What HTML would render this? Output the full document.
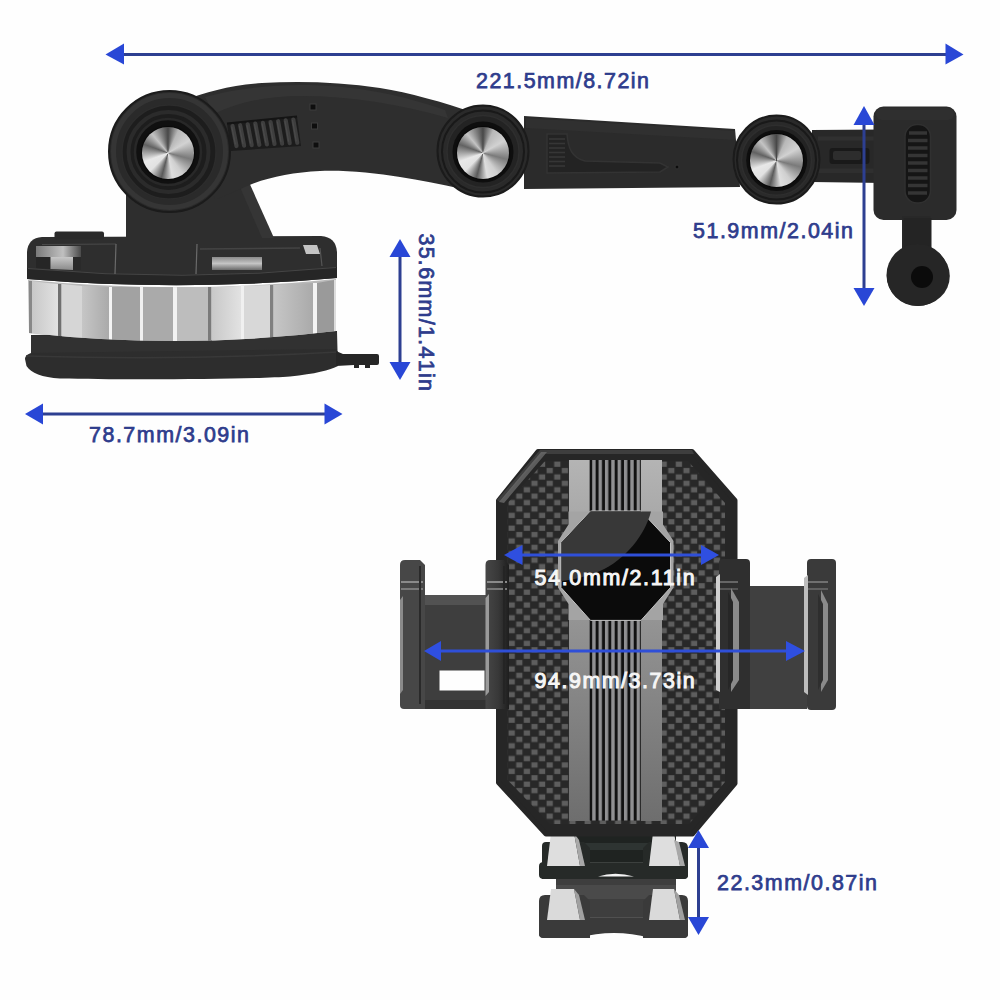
<!DOCTYPE html>
<html><head><meta charset="utf-8">
<style>
html,body{margin:0;padding:0;background:#fefefe;}
#c{position:relative;width:1000px;height:1000px;overflow:hidden;background:#fefefe;}
svg{position:absolute;left:0;top:0;}
.chrome{position:absolute;border-radius:50%;background:conic-gradient(from 0deg,#484848 0deg,#b8b8b8 25deg,#d2d2d2 60deg,#7a7a7a 105deg,#cfcfcf 145deg,#dedede 170deg,#5a5a5a 195deg,#e2e2e2 225deg,#e8e8e8 250deg,#626262 290deg,#c4c4c4 320deg,#484848 360deg);box-shadow:0 0 1px 1px rgba(0,0,0,0.5);}
.t{font-family:"Liberation Sans",sans-serif;font-weight:normal;}
</style></head><body><div id="c">
<svg width="1000" height="1000" viewBox="0 0 1000 1000">
<defs>
</defs>
<!-- BASE GROUP -->
<g id="base">
  <defs>
    <linearGradient id="chr1" x1="0" x2="1" y1="0" y2="0">
      <stop offset="0" stop-color="#c8c8c8"/><stop offset="1" stop-color="#e2e2e2"/>
    </linearGradient>
    <linearGradient id="chr2" x1="0" x2="1" y1="0" y2="0">
      <stop offset="0" stop-color="#c6c6c6"/><stop offset="1" stop-color="#aaaaaa"/>
    </linearGradient>
    <linearGradient id="chr3" x1="0" x2="0" y1="0" y2="1">
      <stop offset="0" stop-color="#8a8a8a"/><stop offset="0.5" stop-color="#c4c4c4"/><stop offset="1" stop-color="#6a6a6a"/>
    </linearGradient>
  </defs>
  <!-- bottom suction -->
  <path d="M31,335 L337,331 L337.5,351 L338,366 C330,370 315,374 290,376.5 C250,379.5 120,380 60,378.5 C42,377.5 31,373 26.5,366 L25,359 C25,356 28,354 31,353 Z" fill="#2d2d2d"/>
  <path d="M31,336 L337,332 L337,349 L31,353 Z" fill="#313131"/><path d="M26,356 Q182,361 338,352" stroke="#383838" stroke-width="1.5" fill="none"/>
  <path d="M336,351 L343,354 L377,354 Q379,354 379,356 L379,363 Q379,365 377,365 L370,365 L370,368 L365,368 L365,365 L359,365 L359,368 L354,368 L354,365 L336,366 Z" fill="#262626"/>
  <!-- chrome band -->
  <clipPath id="bandclip"><path d="M28,280 Q182,295 336,279 L336,331 Q182,350 29,333 Z"/></clipPath>
  <path d="M28,280 Q182,295 336,279 L336,331 Q182,350 29,333 Z" fill="#b9b9b9"/>
  <g clip-path="url(#bandclip)">
    <path d="M29,281 L32,281 L32,336 L29,336 Z" fill="#888888"/>
    <path d="M32,281 Q45,283 58,284 L58,339 Q45,338 32,337 Z" fill="url(#chr1)"/>
    <path d="M58,284 L61,284 L61,339 L58,339 Z" fill="#707070"/>
    <path d="M62,284 Q72,285 82,286 L82,340 Q72,340 62,339 Z" fill="#d6d6d6"/>
    <path d="M82,286 Q95,286 109,287 L109,341 Q95,341 82,340 Z" fill="url(#chr2)"/>
    <path d="M109,287 L112,287 L112,341 L109,341 Z" fill="#f4f4f4"/>
    <path d="M112,287 Q126,287 140,287 L140,341 Q126,341 112,341 Z" fill="#a2a2a2"/>
    <path d="M140,287 L143,287 L143,341 L140,341 Z" fill="#f0f0f0"/>
    <path d="M143,287 Q158,287 173,287 L173,341 Q158,341 143,341 Z" fill="#aaaaaa"/>
    <path d="M173,287 L177,287 L177,341 L173,341 Z" fill="#f2f2f2"/>
    <path d="M177,287 L208,287 L208,341 L177,341 Z" fill="#bdbdbd"/>
    <path d="M208,287 L211,287 L211,341 L208,341 Z" fill="#7a7a7a"/>
    <path d="M212,287 L241,286 L241,340 L212,341 Z" fill="url(#chr1)"/>
    <path d="M241,286 L244,286 L244,340 L241,340 Z" fill="#f0f0f0"/>
    <path d="M244,286 L270,285 L270,339 L244,340 Z" fill="#d8d8d8"/>
    <path d="M270,285 L273,285 L273,339 L270,339 Z" fill="#808080"/>
    <path d="M274,285 L313,283 L313,337 L274,339 Z" fill="url(#chr2)"/>
    <path d="M313,283 L317,283 L317,337 L313,337 Z" fill="#f4f4f4"/>
    <path d="M317,283 L334,280 L334,335 L317,337 Z" fill="#9a9a9a"/>
    <path d="M334,280 L336,280 L336,335 L334,335 Z" fill="#dddddd"/>
  </g>
  <!-- top dark part -->
  <linearGradient id="lens1" x1="0" x2="1" y1="0" y2="0"><stop offset="0" stop-color="#7a7a7a"/><stop offset="0.6" stop-color="#c0c0c0"/><stop offset="1" stop-color="#4a4a4a"/></linearGradient>
  <linearGradient id="lens2" x1="0" x2="0" y1="0" y2="1"><stop offset="0" stop-color="#c8c8c8"/><stop offset="1" stop-color="#8a8a8a"/></linearGradient>
  <path d="M27,279 L27,252 Q28,238 42,237 L321,236 Q336,237 337,252 L337,278 Q182,292 27,279 Z" fill="#2e2e2e"/>
  <path d="M27,268 Q182,282 337,267 L337,278 Q182,292 27,279 Z" fill="#262626"/>
  <path d="M28,268.5 Q182,282.5 336,267.5" stroke="#454545" stroke-width="1" fill="none"/>
  <path d="M36,246 L81,246 L81,257 L36,257 Z" fill="url(#lens1)"/>
  <path d="M36,257 L50,257 L50,269 L36,268 Z" fill="#262626"/>
  <path d="M50.5,257 L73,257 L73,270 L50.5,269 Z" fill="url(#lens2)"/>
  <path d="M73,257 L81,257 L81,270 L73,270 Z" fill="#2a2a2a"/>
  <path d="M42,244.5 L116,244" stroke="#4a4a4a" stroke-width="1.2"/>
  <path d="M116,244 L115,274" stroke="#6a6a6a" stroke-width="1.2"/>
  <path d="M197,244 L196,274" stroke="#6a6a6a" stroke-width="1.2"/>
  <path d="M200,249 L300,248" stroke="#444444" stroke-width="1.5"/>
  <path d="M212,257 L262,257 L262,270 L212,270 Z" fill="url(#chr3)"/>
  <path d="M303,245 L317,245 L320,254 L306,254 Z" fill="#c4c4c4"/>
  <path d="M320,248 L322,266" stroke="#555555" stroke-width="1.2"/>
  <rect x="54.5" y="231.5" width="49.5" height="8" rx="2" fill="#2a2a2a"/>
</g>
<!-- ARM GROUP -->
<g id="arm">
  <!-- pedestal -->
  <path d="M126,238 L126,190 L200,150 L236,178 L272,238 Z" fill="#2e2e2e"/>
  <path d="M236,178 L248,180 L274,238 L262,238 Z" fill="#353535"/>
  <!-- arm1 -->
  <path d="M185,100 C205,92 232,85 262,83 C300,81 340,82 380,88 C410,93 440,101 480,115 L480,190 L460,188.4 C440,184 420,180 400,177 C375,173 345,170 320,171 C295,172 270,177 252,184 L215,200 Z" fill="#2e2e2e"/>
  <path d="M205,97 C235,89 270,85 300,85 C345,85 390,91 445,110 L448,118 C400,104 350,96 300,96 C268,96 238,102 214,114 Z" fill="#353535"/>
  <path d="M227,123.5 L297,116.5 L301,146 L231,151 Z" fill="#1c1c1c"/>
  <path d="M227,123.5 L297,116.5" stroke="#141414" stroke-width="2"/>
  <g stroke="#3e3e3e" stroke-width="4.2" stroke-linecap="round"><line x1="232.5" y1="126.0" x2="236.5" y2="146.0"/><line x1="240.1" y1="125.2" x2="244.1" y2="145.6"/><line x1="247.7" y1="124.4" x2="251.7" y2="145.2"/><line x1="255.3" y1="123.6" x2="259.3" y2="144.8"/><line x1="262.9" y1="122.8" x2="266.9" y2="144.4"/><line x1="270.5" y1="122.0" x2="274.5" y2="144.0"/><line x1="278.1" y1="121.2" x2="282.1" y2="143.6"/><line x1="285.7" y1="120.4" x2="289.7" y2="143.2"/><line x1="293.3" y1="119.6" x2="297.3" y2="142.8"/></g>
  <g stroke="#4a4a4a" stroke-width="1.2" stroke-linecap="round"><line x1="231.8" y1="127.0" x2="235.3" y2="144.0"/><line x1="239.4" y1="126.2" x2="242.9" y2="143.6"/><line x1="247.0" y1="125.4" x2="250.5" y2="143.2"/><line x1="254.6" y1="124.6" x2="258.1" y2="142.8"/><line x1="262.2" y1="123.8" x2="265.7" y2="142.4"/><line x1="269.8" y1="123.0" x2="273.3" y2="142.0"/><line x1="277.4" y1="122.2" x2="280.9" y2="141.6"/><line x1="285.0" y1="121.4" x2="288.5" y2="141.2"/><line x1="292.6" y1="120.6" x2="296.1" y2="140.8"/></g>
  <g fill="#0e0e0e" stroke="#3c3c3c" stroke-width="1">
    <rect x="310" y="104" width="6" height="6"/><rect x="311.5" y="123" width="6" height="6"/><rect x="313" y="142" width="6" height="6"/>
  </g>
  <!-- big joint -->
  <circle cx="169.5" cy="151.5" r="60.5" fill="#2a2a2a" stroke="#1b1b1b" stroke-width="2"/>
  <circle cx="169.5" cy="151.5" r="56" fill="none" stroke="#353535" stroke-width="5"/>
  <circle cx="169" cy="152" r="47" fill="#1d1d1d" stroke="#2c2c2c" stroke-width="1.5"/>
  <circle cx="168.5" cy="152" r="40" fill="none" stroke="#2b2b2b" stroke-width="4"/>
  <circle cx="168" cy="152" r="33" fill="#101010" stroke="#282828" stroke-width="2.5"/>
  <!-- segment 2 -->
  <path d="M524,116 L735,129 L740,187 L524,189 Z" fill="#2b2b2b"/>
  <path d="M526,118 L735,131 L735,140 L526,128 Z" fill="#303030"/>
  <path d="M547,134 L567,134 C568,148 572,158 585,161 L660,163 L668,167 L660,172 L547,173 Z" fill="#232323" stroke="#333333" stroke-width="1.5"/>
  <circle cx="677" cy="167" r="2" fill="#0c0c0c" stroke="#333333" stroke-width="1"/>
  <g stroke="#363636" stroke-width="1.6">
    <line x1="549" y1="139" x2="565" y2="139"/><line x1="549" y1="143.5" x2="565" y2="143.5"/><line x1="549" y1="148" x2="565" y2="148"/>
    <line x1="549" y1="152.5" x2="565" y2="152.5"/><line x1="549" y1="157" x2="565" y2="157"/><line x1="549" y1="161.5" x2="565" y2="161.5"/>
    <line x1="549" y1="166" x2="565" y2="166"/>
  </g>
  <!-- joint 2 -->
  <circle cx="483" cy="151" r="45.5" fill="#2a2a2a" stroke="#1b1b1b" stroke-width="2"/>
  <circle cx="483" cy="151.5" r="41" fill="none" stroke="#191919" stroke-width="2"/>
  <circle cx="483" cy="151.5" r="36" fill="#232323" stroke="#2e2e2e" stroke-width="1.5"/>
  <circle cx="483" cy="152" r="30.5" fill="#0e0e0e"/>
  <!-- segment 3 -->
  <path d="M812,130 L884,129.5 L884,183 L812,182 Z" fill="#282828"/>
  <rect x="818" y="136.5" width="62" height="4" fill="#303030"/>
  <rect x="818" y="168.5" width="62" height="4.5" fill="#2f2f2f"/>
  <rect x="829.5" y="148" width="40" height="16" rx="3" fill="#191919"/>
  <rect x="833" y="151" width="28" height="9" rx="2" fill="#2d2d2d"/>
  <!-- joint 3 -->
  <ellipse cx="776.5" cy="159.6" rx="43" ry="44" fill="#2a2a2a" stroke="#1b1b1b" stroke-width="2"/>
  <circle cx="776.5" cy="160" r="39.5" fill="none" stroke="#191919" stroke-width="2"/>
  <circle cx="776.5" cy="160.3" r="35" fill="#232323" stroke="#2e2e2e" stroke-width="1.5"/>
  <circle cx="776.7" cy="160.5" r="30.5" fill="#0e0e0e"/>
  <!-- head block -->
  <rect x="873.5" y="106.5" width="83" height="113.5" rx="10" fill="#2b2b2b"/>
  <rect x="876" y="108" width="78" height="12" rx="6" fill="#2f2f2f"/>
  <rect x="905" y="124.5" width="25.5" height="78.5" rx="12" fill="#151515" stroke="#303030" stroke-width="1.5"/>
  <g stroke="#353535" stroke-width="3.5">
    <line x1="909" y1="133" x2="927" y2="133"/><line x1="908" y1="140.5" x2="927.5" y2="140.5"/><line x1="908" y1="148" x2="927.5" y2="148"/>
    <line x1="908" y1="155.5" x2="927.5" y2="155.5"/><line x1="908" y1="163" x2="927.5" y2="163"/><line x1="908" y1="170.5" x2="927.5" y2="170.5"/>
    <line x1="908" y1="178" x2="927.5" y2="178"/><line x1="908" y1="185.5" x2="927.5" y2="185.5"/><line x1="908" y1="193" x2="927" y2="193"/>
  </g>
  <!-- ball -->
  <rect x="902" y="216" width="28.5" height="42" fill="#282828"/>
  <ellipse cx="918.3" cy="275.9" rx="31.5" ry="30" fill="#282828"/>
  <circle cx="923" cy="275.5" r="12" fill="#0c0c0c"/>
</g>
  <!-- ball -->
  <rect x="903.5" y="218" width="28" height="40" fill="#242424"/>
  <circle cx="917.5" cy="275" r="31" fill="#262626"/>
  <circle cx="922" cy="277" r="11" fill="#0b0b0b"/>
</g>
<!-- HOLDER GROUP -->
<g id="holder">
  <defs>
    <pattern id="carbon" x="508" y="461" width="15.2" height="12.8" patternUnits="userSpaceOnUse">
      <rect width="15.2" height="12.8" fill="#282828"/>
      <rect x="0.6" y="0.6" width="6.2" height="5.2" fill="#5e5e5e"/>
      <rect x="8.2" y="7.0" width="6.2" height="5.2" fill="#5e5e5e"/>
    </pattern>
    <pattern id="stripes" x="589.5" y="0" width="6.35" height="10" patternUnits="userSpaceOnUse">
      <rect width="6.35" height="10" fill="#111"/>
      <rect x="2.7" width="3.4" height="10" fill="#909092"/>
    </pattern>
    <linearGradient id="gband" x1="0" x2="0" y1="0" y2="1">
      <stop offset="0" stop-color="#b4b4b4"/><stop offset="0.5" stop-color="#909090"/><stop offset="1" stop-color="#6e6e6e"/>
    </linearGradient>
    <linearGradient id="clamp" x1="0" x2="1" y1="0" y2="0">
      <stop offset="0" stop-color="#3a3a3a"/><stop offset="1" stop-color="#2a2a2a"/>
    </linearGradient>
  </defs>
  <!-- feet -->
  <rect x="556" y="836" width="120" height="82" fill="#3e3e3e"/>
  <rect x="556" y="836" width="120" height="26" fill="#1f2321"/>
  <rect x="580" y="843" width="70" height="7" fill="#2e3432"/>
  <rect x="556" y="885" width="120" height="14" fill="#4a4a4a"/>
  <path d="M539,866 Q539,862 544,862 L683,862 Q688,862 688,866 L688,875 Q688,879 683,879 L544,879 Q539,879 539,875 Z" fill="#262a28"/>
  <path d="M544,862.5 L683,862.5" stroke="#3c403e" stroke-width="1.2"/>
  <path d="M598,876.5 Q615,871 634,876.5 Z" fill="#f4f4f4"/>
  <path d="M539,921 Q539,917 544,917 L683,917 Q688,917 688,921 L688,934 Q688,938 683,938 L650,938 Q614,928 578,938 L544,938 Q539,938 539,934 Z" fill="#3a3a3a"/>
  <path d="M544,917.5 L683,917.5" stroke="#505050" stroke-width="1.2"/>
  <path d="M542,846 Q542,842 546,842 L584,842 L590,848 L590,879 L542,879 Z" fill="#262a28"/>
  <path d="M643,879 L643,848 L649,842 L682,842 Q688,842 688,848 L688,875 Q688,879 684,879 Z" fill="#262a28"/>
  <path d="M539,901 Q539,895 545,895 L584,895 L590,901 L590,938 L544,938 Q539,938 539,934 Z" fill="#3a3a3a"/>
  <path d="M643,938 L643,901 L649,895 L682,895 Q688,895 688,901 L688,934 Q688,938 684,938 Z" fill="#3a3a3a"/>
  <path d="M551,833 L574,833 L580,866 L547,866 Z" fill="#dedede"/>
  <path d="M574,833 L580,866 L585,866 L579,840 Z" fill="#a8a8a8"/>
  <path d="M653,833 L674,833 L680,866 L649,866 Z" fill="#dedede"/>
  <path d="M674,840 L680,866 L685,866 L679,842 Z" fill="#a8a8a8"/>
  <path d="M551,889 L574,889 L580,920 L547,920 Z" fill="#dadada"/>
  <path d="M574,889 L580,920 L585,920 L579,895 Z" fill="#a0a0a0"/>
  <path d="M653,889 L674,889 L680,920 L649,920 Z" fill="#dadada"/>
  <path d="M674,889 L680,920 L685,920 L679,895 Z" fill="#a0a0a0"/>
  <!-- left clamp (back parts) -->
  <path d="M425,595 L490,595 L490,709 L425,709 Z" fill="#3e3e3e"/>
  <rect x="425" y="595" width="65" height="10" fill="#525252"/>
  <rect x="425" y="700" width="65" height="9" fill="#333"/>
  <rect x="439.5" y="670.5" width="45" height="20" fill="#fefefe"/>
  <path d="M405,560 L420,560 L425,565 L425,709 L404,709 Q400,709 400,705 L400,565 Q400,560 405,560 Z" fill="#474747"/>
  <path d="M400,600 L403,596 L403,690 L400,694 Z" fill="#8a8a8a"/>
  <rect x="401" y="581" width="22" height="2" fill="#8a8a8a"/><rect x="401" y="588" width="22" height="2" fill="#7a7a7a"/>
  <rect x="419" y="566" width="2" height="138" fill="#2a2a2a"/>
  <!-- right clamp back -->
  <path d="M745,586 L807,586 L807,709 L745,709 Z" fill="#404040"/>
  <path d="M811,559 L832,559 Q836,559 836,563 L836,706 Q836,710 832,710 L811,710 Q807,710 807,706 L807,563 Q807,559 811,559 Z" fill="#3a3a3a"/>
  <path d="M804,578 L808,575 L808,695 L804,692 Z" fill="#bdbdbd"/>
  <rect x="808" y="581" width="20" height="2" fill="#707070"/><rect x="808" y="588" width="20" height="2" fill="#606060"/>
  <path d="M821,590 L828,604 L828,680 L821,692 Z" fill="#8a8a8a"/>
  <path d="M818,594 L823,604 L823,680 L818,690 Z" fill="#2e2e2e"/>
  <!-- body -->
  <path d="M538,451.5 L692,451.5 L735,500.5 L735,783.5 L692.5,834 L546,834 L498.5,782.5 L498.5,500.5 Z" fill="#262626" stroke="#262626" stroke-width="5" stroke-linejoin="round"/>
  <path d="M540,450 L692,450 L694,454 L542,454 L500,502 L497,500 Z" fill="#3e3e3e"/>
  <path d="M541,452 L547,452 L504,503 L499,502 Z" fill="#6a6a6a" opacity="0.8"/>
  <path d="M545,461 L688,461 L725,503 L725,782 L689,824 L550,824 L507.5,780 L507.5,503 Z" fill="url(#carbon)"/>
  <rect x="569" y="460" width="21" height="361" fill="url(#gband)"/>
  <rect x="641" y="460" width="21" height="361" fill="url(#gband)"/>
  <rect x="589.5" y="460" width="51.5" height="360.5" fill="url(#stripes)"/>
  <!-- octagon -->
  <path d="M568.5,511.5 L663,511.5 L663,524.5 L673.5,541 L673.5,587.5 L663,604 L663,620 L568.5,620 L568.5,604 L558,587.5 L558,541 L568.5,524.5 Z" fill="#a4a4a4"/>
  <path d="M590.5,511 L641,511 L670.5,542.5 L670.5,587.5 L641,620.4 L590.5,620.4 L561,587.5 L561,542.5 Z" fill="#0b0b0b" stroke="#c4c4c4" stroke-width="1"/>
  <path d="M590.5,511.5 L651,511.5 C645,535 625,560 600,571 C585,577 572,580 561.5,581 L561.5,542.5 Z" fill="#383838"/>
  <!-- inner jaws (front) -->
  <linearGradient id="jawL" x1="0" x2="1" y1="0" y2="0"><stop offset="0" stop-color="#474747"/><stop offset="0.55" stop-color="#383838"/><stop offset="1" stop-color="#1e1e1e"/></linearGradient>
  <path d="M490,560 L504,560 L509,565 L509,709 L485.5,709 L485.5,565 Q485.5,560 490,560 Z" fill="url(#jawL)"/>
  <path d="M485.5,598 L489,594 L489,692 L485.5,696 Z" fill="#9a9a9a"/>
  <rect x="487" y="581" width="20" height="2" fill="#8a8a8a"/><rect x="487" y="588" width="20" height="2" fill="#777"/>
  <rect x="503" y="566" width="2" height="138" fill="#242424"/>
  <path d="M723,559 L746,559 Q750,559 750,563 L750,709 L719,709 L719,563 Q719,559 723,559 Z" fill="#2f2f2f"/>
  <path d="M716,577 L720,574 L720,692 L716,690 Z" fill="#d0d0d0"/>
  <rect x="720" y="581" width="18" height="2" fill="#666"/><rect x="720" y="588" width="18" height="2" fill="#555"/>
  <path d="M731,588 L739,602 L739,680 L731,692 Z" fill="#8a8a8a"/>
  <path d="M728,592 L733,602 L733,680 L728,690 Z" fill="#262626"/>
</g>
<!-- ARROWS -->
<g id="arrows">
  <!-- top 221.5 -->
  <rect x="120" y="53" width="828" height="3" fill="#2d3f91"/>
  <polygon points="105.5,54.5 124,43.5 124,64.5" fill="#2947d6"/>
  <polygon points="963.5,54.5 945.5,43.5 945.5,64.5" fill="#2947d6"/>
  <!-- 78.7 -->
  <rect x="40" y="412.5" width="290" height="3" fill="#2d3f91"/>
  <polygon points="25,414 43,403.5 43,424.5" fill="#2947d6"/>
  <polygon points="342.5,414 324.5,403.5 324.5,424.5" fill="#2947d6"/>
  <!-- 35.6 vertical -->
  <rect x="398.5" y="250" width="3" height="115" fill="#2d3f91"/>
  <polygon points="400,239 389.5,257 410.5,257" fill="#2947d6"/>
  <polygon points="400,380 389.5,362 410.5,362" fill="#2947d6"/>
  <!-- 51.9 vertical -->
  <rect x="862.5" y="120" width="3" height="172" fill="#2d3f91"/>
  <polygon points="864,106 853.5,125 874.5,125" fill="#2947d6"/>
  <polygon points="864,306 853.5,288 874.5,288" fill="#2947d6"/>
  <!-- 22.3 vertical -->
  <rect x="697" y="844" width="3" height="78" fill="#2d3f91"/>
  <polygon points="698.5,830 688,848 709,848" fill="#2947d6"/>
  <polygon points="698.5,935 688,917 709,917" fill="#2947d6"/>
  <!-- 54.0 -->
  <rect x="515" y="553.5" width="194" height="3" fill="#2f4fd8"/>
  <polygon points="504,555 522.5,545 522.5,565" fill="#2f4fe0"/>
  <polygon points="719,555 701,545 701,565" fill="#2f4fe0"/>
  <!-- 94.9 -->
  <rect x="435" y="649.5" width="360" height="3" fill="#2f4fd8"/>
  <polygon points="424,651 441,641 441,661" fill="#2f4fe0"/>
  <polygon points="805,651 786,641 786,661" fill="#2f4fe0"/>
</g>
<!-- TEXT -->
<g class="t" fill="#2e3c8c" stroke="#2e3c8c" stroke-width="0.75" font-size="21.4">
  <text x="476" y="88" textLength="173" lengthAdjust="spacing">221.5mm/8.72in</text>
  <text x="89" y="442.4" textLength="160" lengthAdjust="spacing">78.7mm/3.09in</text>
  <text x="693" y="238.4" textLength="160" lengthAdjust="spacing">51.9mm/2.04in</text>
  <text x="717" y="890.4" textLength="160" lengthAdjust="spacing">22.3mm/0.87in</text>
  <text transform="translate(418.9,233.4) rotate(90)" textLength="157.6" lengthAdjust="spacing">35.6mm/1.41in</text>
  <text x="534.6" y="585" fill="#f6f6f6" stroke="#f6f6f6" stroke-width="1.0" textLength="160" lengthAdjust="spacing">54.0mm/2.11in</text>
  <text x="534.6" y="687.6" fill="#f6f6f6" stroke="#f6f6f6" stroke-width="1.0" textLength="160" lengthAdjust="spacing">94.9mm/3.73in</text>
</g>
</svg>
<div class="chrome" style="left:142px;top:127px;width:51.6px;height:51.6px"></div>
<div class="chrome" style="left:457px;top:126.5px;width:52px;height:52px"></div>
<div class="chrome" style="left:750.2px;top:134.2px;width:53px;height:52.5px"></div>
</div></body></html>
